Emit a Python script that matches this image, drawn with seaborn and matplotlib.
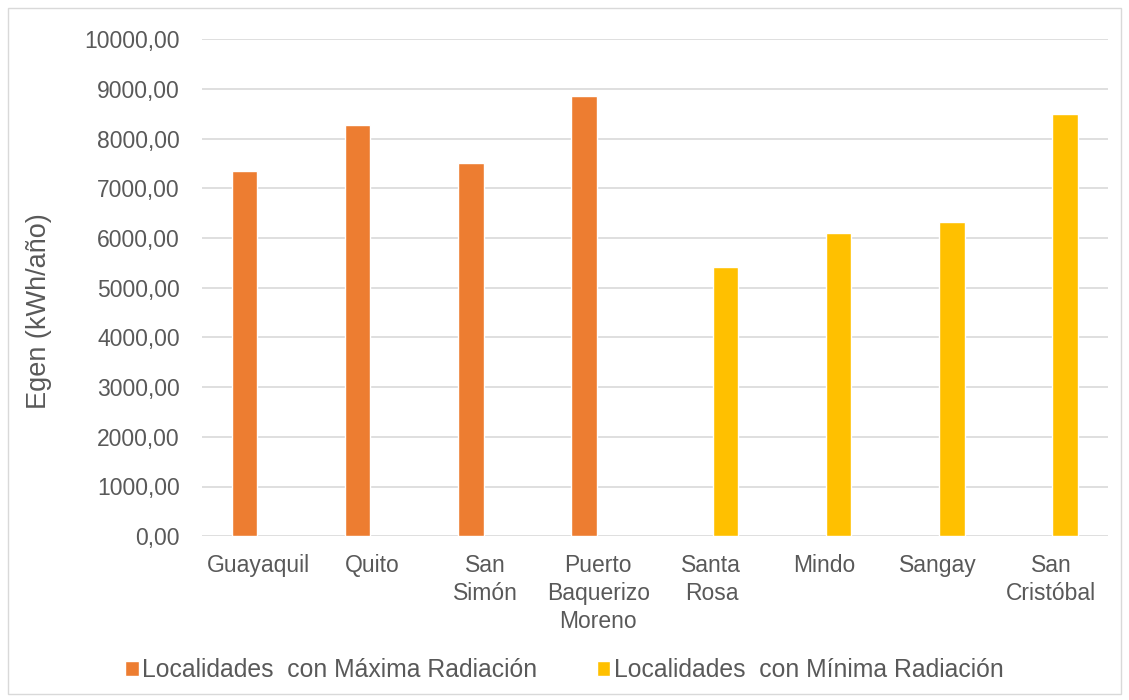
import matplotlib
matplotlib.use("Agg")
import matplotlib.pyplot as plt
import seaborn as sns
import pandas as pd
from matplotlib.patches import Rectangle
from matplotlib.ticker import FuncFormatter

localidades = ["Guayaquil", "Quito", "San\nSimón", "Puerto\nBaquerizo\nMoreno",
               "Santa\nRosa", "Mindo", "Sangay", "San\nCristóbal"]
grupos = ["Localidades  con Máxima Radiación", "Localidades  con Mínima Radiación"]
max_loc = ["Guayaquil", "Quito", "San\nSimón", "Puerto\nBaquerizo\nMoreno"]
max_egen = [7356, 8280, 7517, 8866]
min_loc = ["Santa\nRosa", "Mindo", "Sangay", "San\nCristóbal"]
min_egen = [5410, 6103, 6316, 8503]
colores = ["#ED7D31", "#FFC000"]

df = pd.concat([
    pd.DataFrame({"loc": max_loc, "egen": max_egen, "grupo": grupos[0]}),
    pd.DataFrame({"loc": min_loc, "egen": min_egen, "grupo": grupos[1]}),
])

sns.set_style("white")
plt.rcParams["font.family"] = ["Liberation Sans", "DejaVu Sans"]

fig = plt.figure(figsize=(11.29, 7.0), dpi=100)
ax = fig.add_axes([0.179, 0.234, 0.802, 0.71])

sns.barplot(data=df, x="loc", y="egen", hue="grupo", order=localidades,
            hue_order=grupos, palette=colores, width=0.5, gap=0.1, dodge=True,
            saturation=1, ax=ax, zorder=3)

ax.set_ylim(0, 10000)
ax.set_yticks(range(0, 10001, 1000))
ax.yaxis.set_major_formatter(FuncFormatter(lambda v, p: f"{v:.2f}".replace(".", ",")))
ax.grid(axis="y", color="#D9D9D9", linewidth=1.2, zorder=0)
for s in ax.spines.values():
    s.set_visible(False)
ax.tick_params(axis="both", length=0, colors="#595959", labelsize=16.5)
ax.tick_params(axis="y", pad=16)
ax.tick_params(axis="x", pad=13)
for lbl in ax.get_xticklabels():
    lbl.set_linespacing(1.27)
ax.set_xlabel("")
ax.set_ylabel("Egen (kWh/año)", fontsize=19.5, color="#595959")
ax.yaxis.set_label_coords(-0.166, 0.453)

ax.legend(loc="center", ncol=2, frameon=False, fontsize=17.8, handlelength=0.55,
          handleheight=0.55, handletextpad=0.15, columnspacing=2.4,
          labelcolor="#595959")
leg = ax.get_legend()
leg.set_bbox_to_anchor((0.5, 1 - 670 / 700), transform=fig.transFigure)

fig.add_artist(Rectangle((8 / 1129, 6 / 700), 1113 / 1129, 686 / 700,
                         transform=fig.transFigure, fill=False,
                         edgecolor="#D9D9D9", linewidth=1))

fig.savefig("out.png", dpi=100)
